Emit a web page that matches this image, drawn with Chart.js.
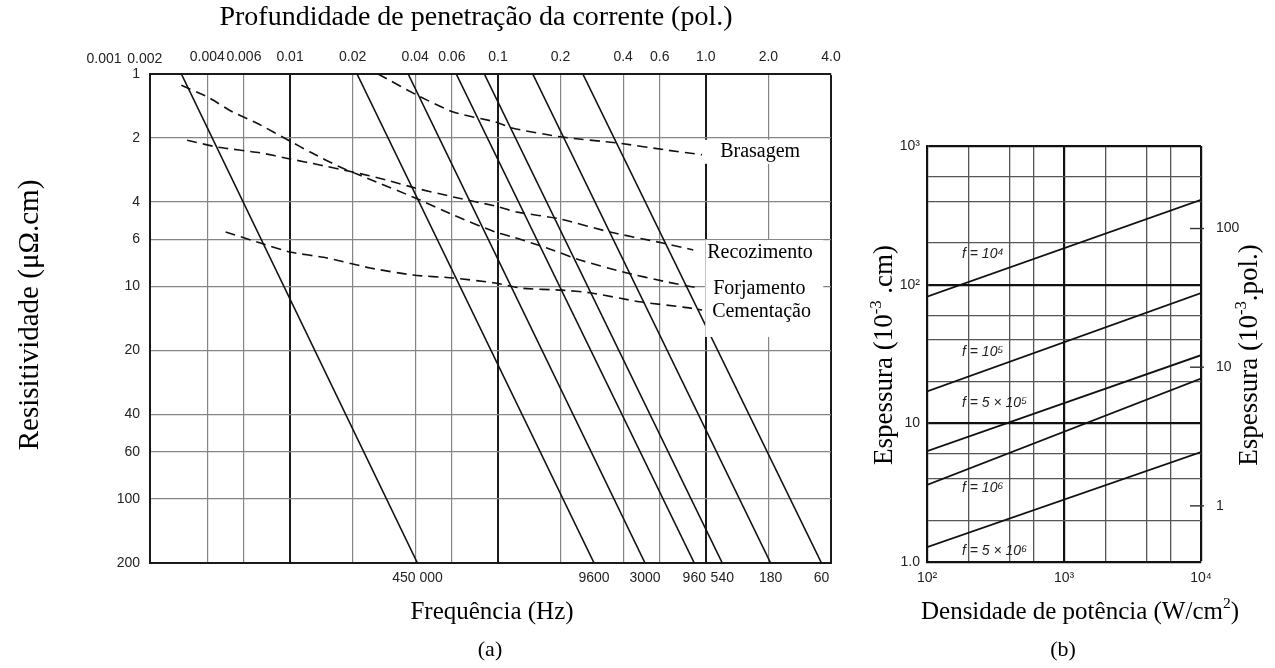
<!DOCTYPE html>
<html>
<head>
<meta charset="utf-8">
<script src="https://cdn.jsdelivr.net/npm/chart.js@4.4.1/dist/chart.umd.min.js"></script>
<style>
  html, body { margin: 0; padding: 0; background: #fff; }
  #wrap { position: relative; width: 1275px; height: 668px; }
  #chartA { position: absolute; left: 0; top: 0; }
  #chartB { position: absolute; left: 860px; top: 0; }
</style>
</head>
<body>
<div id="wrap">
  <canvas id="chartA" width="860" height="668"></canvas>
  <canvas id="chartB" width="415" height="668"></canvas>
</div>
<script>
// ---------- (a) penetration depth nomogram ----------
const depthTicks = [0.004, 0.006, 0.01, 0.02, 0.04, 0.06, 0.1, 0.2, 0.4, 0.6, 1.0, 2.0, 4.0];
const depthLabels = ['0.004', '0.006', '0.01', '0.02', '0.04', '0.06', '0.1', '0.2', '0.4', '0.6', '1.0', '2.0', '4.0'];
const depthExtraLabels = ['0.001', '0.002'];
const depthMajor = [0.01, 0.1, 1.0];
const rhoTicks = [1, 2, 4, 6, 10, 20, 40, 60, 100, 200];
const rhoEnds = [1, 200];

// frequency lines: depth (pol.) at 1 and at 200 μΩ.cm
const freqLabels = ['450 000', '9600', '3000', '960', '540', '180', '60'];
const freqDepthTop = [0.003, 0.021, 0.037, 0.063, 0.086, 0.147, 0.256];
const freqDepthBottom = [0.041, 0.29, 0.51, 0.88, 1.2, 2.05, 3.6];

// process curves
const processNames = ['Brasagem', 'Recozimento', 'Forjamento', 'Cementação'];
const brasagemDepth = [0.0265, 0.041, 0.061, 0.097, 0.118, 0.203, 0.373, 0.65, 0.96];
const brasagemRho = [1.0, 1.26, 1.51, 1.68, 1.80, 1.98, 2.11, 2.28, 2.40];
const recozDepth = [0.0032, 0.0045, 0.0072, 0.010, 0.0139, 0.020, 0.029, 0.040, 0.061, 0.097, 0.123, 0.199, 0.345, 0.62, 0.87];
const recozRho = [2.05, 2.21, 2.35, 2.51, 2.68, 2.89, 3.15, 3.44, 3.79, 4.18, 4.46, 4.81, 5.54, 6.24, 6.73];
const forjDepth = [0.0030, 0.0040, 0.0053, 0.0069, 0.010, 0.0125, 0.0174, 0.026, 0.040, 0.061, 0.097, 0.118, 0.172, 0.248, 0.40, 0.65, 0.94];
const forjRho = [1.13, 1.28, 1.51, 1.70, 2.07, 2.33, 2.74, 3.22, 3.83, 4.61, 5.54, 5.85, 6.59, 7.5, 8.55, 9.52, 10.2];
const cementDepth = [0.0049, 0.0072, 0.010, 0.0151, 0.0243, 0.039, 0.061, 0.097, 0.132, 0.203, 0.277, 0.48, 0.78, 0.96];
const cementRho = [5.54, 6.24, 6.88, 7.34, 8.18, 8.83, 9.12, 9.63, 10.2, 10.4, 10.7, 11.8, 12.5, 12.9];

// ---------- (b) case depth vs power density ----------
const powerTicks = [100, 200, 400, 600, 1000, 2000, 4000, 6000, 10000];
const powerEnds = [100, 10000];
const thickTicks = [1, 2, 4, 6, 10, 20, 40, 60, 100, 200, 400, 600, 1000];
const milTicks = [1, 10, 100];
const freqNamesB = ['f = 10⁴', 'f = 10⁵', 'f = 5 × 10⁵', 'f = 10⁶', 'f = 5 × 10⁶'];
const thickAtLow = [82, 17, 6.3, 3.6, 1.28];
const thickAtHigh = [409, 87, 31, 21, 6.2];

const serif = '"Liberation Serif", "Times New Roman", serif';
const sans = '"Liberation Sans Narrow", "Liberation Sans", Arial, sans-serif';
const tickFont = { family: sans, size: 14 };
const tickColor = '#222';

// text with raised parts, centred on (x, y)
function drawRich(ctx, parts, x, y, size, angle, family) {
  family = family || serif;
  ctx.save();
  ctx.translate(x, y);
  ctx.rotate(angle || 0);
  ctx.textBaseline = 'middle';
  ctx.textAlign = 'left';
  ctx.fillStyle = '#000';
  const widths = parts.map(([t, sup]) => {
    ctx.font = (sup ? size * 0.62 : size) + 'px ' + family;
    return ctx.measureText(t).width;
  });
  let cx = -widths.reduce((a, b) => a + b, 0) / 2;
  parts.forEach(([t, sup], i) => {
    ctx.font = (sup ? size * 0.62 : size) + 'px ' + family;
    ctx.fillText(t, cx, sup ? -size * 0.32 : 0);
    cx += widths[i];
  });
  ctx.restore();
}

// ---------- chart (a) ----------
const processCurves = [
  { depth: brasagemDepth, rho: brasagemRho },
  { depth: recozDepth, rho: recozRho },
  { depth: forjDepth, rho: forjRho },
  { depth: cementDepth, rho: cementRho }
];

const freqSets = freqDepthTop.map((d, i) => ({
  label: freqLabels[i],
  data: [{ x: d, y: rhoEnds[0] }, { x: freqDepthBottom[i], y: rhoEnds[1] }],
  borderColor: '#111',
  borderWidth: 1.6,
  pointRadius: 0
}));

const processSets = processCurves.map((c, i) => ({
  label: processNames[i],
  data: c.depth.map((d, j) => ({ x: d, y: c.rho[j] })),
  borderColor: '#111',
  borderWidth: 1.6,
  borderDash: [10, 6],
  pointRadius: 0,
  tension: 0.2
}));

const labelsA = {
  id: 'labelsA',
  afterDatasetsDraw(chart) {
    const { ctx, scales: { x, y } } = chart;
    const ends = processCurves.map(c => ({
      px: x.getPixelForValue(c.depth[c.depth.length - 1]),
      py: y.getPixelForValue(c.rho[c.rho.length - 1])
    }));
    ctx.save();
    ctx.fillStyle = '#fff';
    ctx.fillRect(ends[0].px, ends[0].py - 15, 125, 24);
    ctx.fillRect(ends[1].px + 12, ends[1].py - 10, 118, 97);
    ctx.fillStyle = '#000';
    ctx.font = '20px ' + serif;
    ctx.textBaseline = 'middle';
    ctx.textAlign = 'left';
    const dx = [18, 14, 13, 10];
    const dy = [-3, 3, 0, 2];
    processNames.forEach((n, i) => ctx.fillText(n, ends[i].px + dx[i], ends[i].py + dy[i]));
    ctx.restore();
  },
  afterDraw(chart) {
    const { ctx, scales: { x } } = chart;
    ctx.save();
    // depth labels left of the frame
    ctx.font = tickFont.size + 'px ' + sans;
    ctx.fillStyle = tickColor;
    ctx.textAlign = 'center';
    ctx.textBaseline = 'bottom';
    ctx.fillText(depthExtraLabels[1], x.getPixelForValue(0.002), 66);
    ctx.fillText(depthExtraLabels[0], 104, 66);
    ctx.restore();
    drawRich(ctx, [['Profundidade de penetração da corrente (pol.)', 0]], 476, 18, 28);
    drawRich(ctx, [['Frequência (Hz)', 0]], 492, 612, 25);
    drawRich(ctx, [['(a)', 0]], 490, 650, 22);
    drawRich(ctx, [['Resisitividade (μΩ.cm)', 0]], 30, 315, 29, -Math.PI / 2);
  }
};

new Chart(document.getElementById('chartA'), {
  type: 'line',
  data: { datasets: [...freqSets, ...processSets] },
  options: {
    responsive: false,
    animation: false,
    layout: { padding: { left: 0, right: 29, top: 0, bottom: 0 } },
    plugins: { legend: { display: false }, tooltip: { enabled: false } },
    scales: {
      x: {
        type: 'logarithmic',
        position: 'top',
        min: 0.00212,
        max: 4.0,
        afterFit: s => { s.height = 74; },
        afterBuildTicks: s => { s.ticks = depthTicks.map(v => ({ value: v })); },
        ticks: {
          autoSkip: false, maxRotation: 0, padding: 8,
          font: tickFont, color: tickColor,
          callback: (v, i) => depthLabels[i]
        },
        grid: {
          drawTicks: false,
          color: c => (depthMajor.includes(c.tick.value) || c.tick.value === 4.0) ? '#1a1a1a' : '#858585',
          lineWidth: c => (depthMajor.includes(c.tick.value) || c.tick.value === 4.0) ? 2 : 1.2
        },
        border: { display: true, color: '#1a1a1a', width: 2 }
      },
      x2: {
        type: 'logarithmic',
        position: 'bottom',
        min: 0.00212,
        max: 4.0,
        afterFit: s => { s.height = 105; },
        afterBuildTicks: s => { s.ticks = freqDepthBottom.map(v => ({ value: v })); },
        ticks: {
          autoSkip: false, maxRotation: 0, padding: 7,
          font: tickFont, color: tickColor,
          callback: (v, i) => freqLabels[i]
        },
        grid: { display: false, drawTicks: false },
        border: { display: true, color: '#1a1a1a', width: 2 }
      },
      y: {
        type: 'logarithmic',
        reverse: true,
        min: 1,
        max: 200,
        afterFit: s => { s.width = 150; },
        afterBuildTicks: s => { s.ticks = rhoTicks.map(v => ({ value: v })); },
        ticks: {
          autoSkip: false, padding: 10,
          font: tickFont, color: tickColor,
          callback: v => String(v)
        },
        grid: {
          drawTicks: false,
          color: c => (c.tick.value === 1 || c.tick.value === 200) ? '#1a1a1a' : '#858585',
          lineWidth: c => (c.tick.value === 1 || c.tick.value === 200) ? 2 : 1.2
        },
        border: { display: true, color: '#1a1a1a', width: 2 }
      }
    }
  },
  plugins: [labelsA]
});

// ---------- chart (b) ----------
const supLabel = { 1: '1.0', 10: '10', 100: '10²', 1000: '10³' };
const powerLabel = { 100: '10²', 1000: '10³', 10000: '10⁴' };
const thickMajor = [10, 100, 1000];

const lineSetsB = thickAtLow.map((t, i) => ({
  label: freqNamesB[i],
  data: [{ x: powerEnds[0], y: t }, { x: powerEnds[1], y: thickAtHigh[i] }],
  borderColor: '#111',
  borderWidth: 1.8,
  pointRadius: 0
}));

const labelsB = {
  id: 'labelsB',
  afterDatasetsDraw(chart) {
    const { ctx, chartArea, scales: { x, y, y2 } } = chart;
    const labelLeft = chartArea.left + 35;
    const dy = [-21, -18, -21, 27, 31];
    const extra = [25, 25, 43, 25, 43];
    ctx.save();
    ctx.fillStyle = '#222';
    ctx.font = 'italic 14px ' + sans;
    ctx.textBaseline = 'middle';
    ctx.textAlign = 'left';
    lineSetsB.forEach((ds, i) => {
      const x0 = x.getPixelForValue(ds.data[0].x), x1 = x.getPixelForValue(ds.data[1].x);
      const y0 = y.getPixelForValue(ds.data[0].y), y1 = y.getPixelForValue(ds.data[1].y);
      const cx = labelLeft + extra[i];
      const ly = y0 + (y1 - y0) * (cx - x0) / (x1 - x0);
      ctx.fillText(freqNamesB[i], labelLeft, ly + dy[i]);
    });
    // inch ticks on the right frame
    ctx.strokeStyle = '#333';
    ctx.lineWidth = 1.4;
    milTicks.forEach(v => {
      const py = y2.getPixelForValue(v);
      ctx.beginPath();
      ctx.moveTo(chartArea.right - 11, py);
      ctx.lineTo(chartArea.right + 3, py);
      ctx.stroke();
    });
    ctx.restore();
  },
  afterDraw(chart) {
    const { ctx } = chart;
    drawRich(ctx, [['Espessura (10', 0], ['-3', 1], [' .cm)', 0]], 25, 355, 27, -Math.PI / 2);
    drawRich(ctx, [['Espessura (10', 0], ['-3', 1], ['.pol.)', 0]], 390, 355, 27, -Math.PI / 2);
    drawRich(ctx, [['Densidade de potência (W/cm', 0], ['2', 1], [')', 0]], 220, 612, 25);
    drawRich(ctx, [['(b)', 0]], 203, 650, 22);
  }
};

new Chart(document.getElementById('chartB'), {
  type: 'line',
  data: { datasets: lineSetsB },
  options: {
    responsive: false,
    animation: false,
    layout: { padding: { left: 0, right: 0, top: 146, bottom: 0 } },
    plugins: { legend: { display: false }, tooltip: { enabled: false } },
    scales: {
      x: {
        type: 'logarithmic',
        min: 100,
        max: 10000,
        afterFit: s => { s.height = 106; },
        afterBuildTicks: s => { s.ticks = powerTicks.map(v => ({ value: v })); },
        ticks: {
          autoSkip: false, maxRotation: 0, padding: 8,
          font: tickFont, color: tickColor,
          callback: v => powerLabel[v] || ''
        },
        grid: {
          drawTicks: false,
          color: c => (c.tick.value === 1000 || c.tick.value === 10000) ? '#111' : '#555',
          lineWidth: c => (c.tick.value === 1000 || c.tick.value === 10000) ? 2.2 : 1.3
        },
        border: { display: true, color: '#111', width: 2.2 }
      },
      y: {
        type: 'logarithmic',
        min: 1,
        max: 1000,
        afterFit: s => { s.width = 67; },
        afterBuildTicks: s => { s.ticks = thickTicks.map(v => ({ value: v })); },
        ticks: {
          autoSkip: false, padding: 7,
          font: tickFont, color: tickColor,
          callback: v => supLabel[v] || ''
        },
        grid: {
          drawTicks: false,
          color: c => thickMajor.includes(c.tick.value) ? '#111' : '#555',
          lineWidth: c => thickMajor.includes(c.tick.value) ? 2.2 : 1.3
        },
        border: { display: true, color: '#111', width: 2.2 }
      },
      y2: {
        type: 'logarithmic',
        position: 'right',
        min: 1 / 2.54,
        max: 1000 / 2.54,
        afterFit: s => { s.width = 74; },
        afterBuildTicks: s => { s.ticks = milTicks.map(v => ({ value: v })); },
        ticks: {
          autoSkip: false, padding: 7,
          font: tickFont, color: tickColor,
          callback: v => String(v)
        },
        grid: { display: false },
        border: { display: false }
      }
    }
  },
  plugins: [labelsB]
});
</script>
</body>
</html>
